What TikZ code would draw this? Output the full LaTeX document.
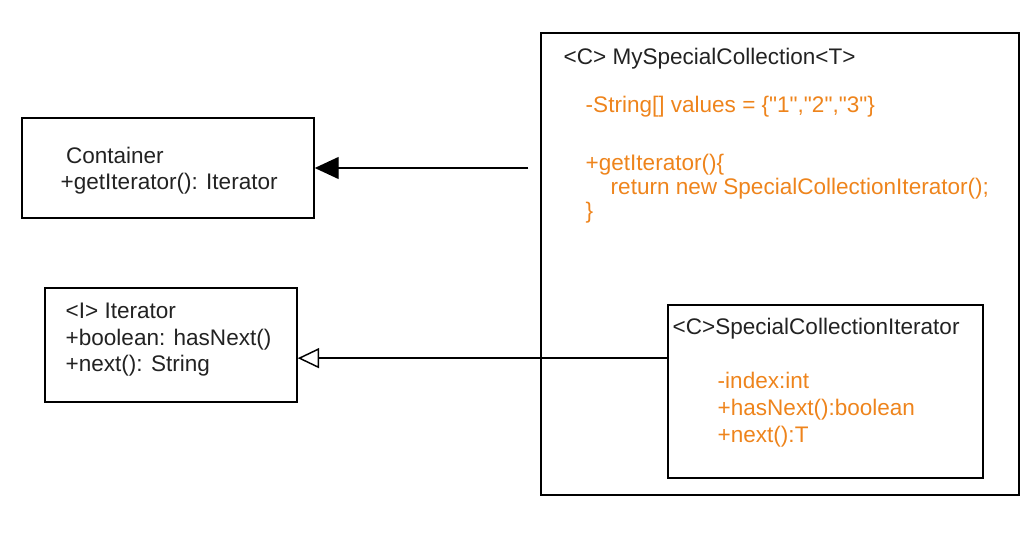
\documentclass[tikz,border=0pt]{standalone}
\usepackage{fontspec}
\setmainfont{Liberation Sans}[Ligatures=TeXOff]
\usetikzlibrary{arrows.meta}
\definecolor{codeorange}{RGB}{238,132,28}
\definecolor{inkgray}{RGB}{34,34,34}
\newcommand{\pxu}{0.75pt}

\begin{document}
\begin{tikzpicture}[x=0.75pt, y=-0.75pt, line width=1.1pt,
    every node/.style={font=\fontsize{16.9}{19.9}\selectfont, text=inkgray},
    umlbox/.style={draw=black, inner sep=0pt},
    members/.style={align=left, anchor=base west, inner sep=0pt},
    code/.style={members, text=codeorange},
    impl/.style={-{Triangle[length=18pt, width=16.5pt]}, shorten <=9pt},
    real/.style={-{Triangle[open, length=16pt, width=15pt, fill=white]}}]
    \useasboundingbox (0,0) rectangle (1036,552);

    % 1. Klassen-Kaesten
    \node[umlbox, minimum width=292*\pxu, minimum height=100*\pxu] (cont) at (168,168) {};
    \node[umlbox, minimum width=252*\pxu, minimum height=114*\pxu] (iter) at (171,345) {};
    \node[umlbox, minimum width=478*\pxu, minimum height=462*\pxu] (msc) at (780,264) {};
    \node[umlbox, minimum width=315*\pxu, minimum height=173*\pxu] (sci) at (825.5,391.5) {};

    % 2. Texte (Anker = Grundlinie der letzten Zeile)
    \node[members] (conttext) at (60,190) {\hspace*{4pt}Container\\+getIterator(): Iterator};
    \node[members] (itertext) at (65,372) {<I> Iterator\\+boolean: hasNext()\\+next(): String};
    \node[members] (msctitle) at (563,65) {<C> MySpecialCollection<T>};
    \node[code, font=\fontsize{16.9}{18}\selectfont] (msccode) at (585,219)
        {-String[] values = \{"1","2","3"\}\\[25.5pt]
        +getIterator()\{\\\hspace*{18.75pt}return new SpecialCollectionIterator();\\\}};
    \node[members] (scititle) at (672,335) {<C>SpecialCollectionIterator};
    \node[code] (scicode) at (717,442) {-index:int\\+hasNext():boolean\\+next():T};

    % 3. Pfeile
    \draw[impl] (cont.east -| msc.west) -- (cont.east);
    \coordinate (realstart) at ([yshift=25pt]sci.west);
    \draw[real] (realstart) -- (realstart -| iter.east);
\end{tikzpicture}
\end{document}
